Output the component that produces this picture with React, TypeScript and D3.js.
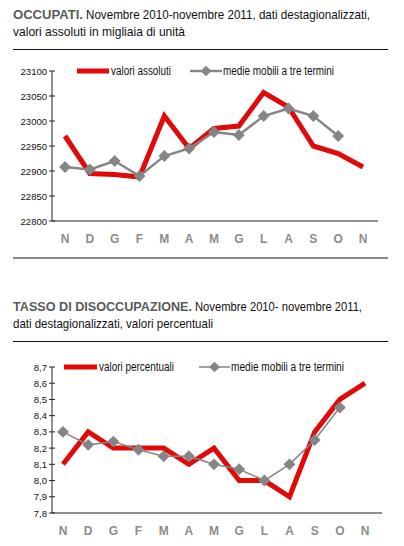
import React, { useEffect } from 'react';
import * as d3 from 'd3';

const months = ['N', 'D', 'G', 'F', 'M', 'A', 'M', 'G', 'L', 'A', 'S', 'O', 'N'];

// occupati, migliaia
const occValues = [22970, 22895, 22893, 22888, 23010, 22945, 22985, 22990, 23057, 23028, 22950, 22935, 22908];
const occMedie = [22908, 22903, 22920, 22890, 22930, 22945, 22978, 22972, 23010, 23025, 23010, 22970];
const occTicks = [22800, 22850, 22900, 22950, 23000, 23050, 23100];

// tasso di disoccupazione, %
const disValues = [8.1, 8.3, 8.2, 8.2, 8.2, 8.1, 8.2, 8.0, 8.0, 7.9, 8.3, 8.5, 8.6];
const disMedie = [8.3, 8.22, 8.24, 8.19, 8.15, 8.15, 8.1, 8.07, 8.0, 8.1, 8.25, 8.45];
const disTicks = [7.8, 7.9, 8.0, 8.1, 8.2, 8.3, 8.4, 8.5, 8.6, 8.7];

const FONT = '"Liberation Sans", Arial, sans-serif';
const RED = '#e10a0a';
const GREY = '#858585';

interface PanelProps {
  top: number;
  boldTitle: string;
  title1: string;
  title2: string;
  titleX: [number, number, number, number]; // bold end, regular start, regular end, line2 end
  values: number[];
  medie: number[];
  ticks: number[];
  fmt: (v: number) => string;
  plotTop: number;
  plotBottom: number;
  xFirst: number;
  xLast: number;
  axisEnd: number;
  redLabel: string;
  redLegend: [number, number, number];
  greyLegend: [number, number, number];
  greyWidth: number;
  bottomRule: boolean;
}

const Panel: React.FC<PanelProps> = (p) => {
  const t = p.top;
  const y = d3.scaleLinear()
    .domain([p.ticks[0], p.ticks[p.ticks.length - 1]])
    .range([t + p.plotBottom, t + p.plotTop]);
  const x = d3.scalePoint<number>()
    .domain(months.map((_, i) => i))
    .range([p.xFirst, p.xLast]);

  const line = d3.line<number>()
    .x((_, i) => x(i) || 0)
    .y(d => y(d));

  const axisX = 52;
  const diamond = (cx: number, cy: number, key: any, s = 4.2) => (
    <rect key={key} x={cx - s} y={cy - s} width={s * 2} height={s * 2}
      fill={GREY} transform={`rotate(45 ${cx} ${cy})`} />
  );
  const legY = t + p.plotTop;
  const [boldEnd, regStart, regEnd, l2End] = p.titleX;

  return (
    <g>
      <text x={13} y={t + 19} fontFamily={FONT} fontSize={13} fontWeight="bold" fill="#5a5a5a"
        textLength={boldEnd - 13} lengthAdjust="spacingAndGlyphs">{p.boldTitle}</text>
      <text x={regStart} y={t + 19} fontFamily={FONT} fontSize={13} fill="#111"
        textLength={regEnd - regStart} lengthAdjust="spacingAndGlyphs">{p.title1}</text>
      <text x={13} y={t + 36} fontFamily={FONT} fontSize={13} fill="#111"
        textLength={l2End - 13} lengthAdjust="spacingAndGlyphs">{p.title2}</text>
      <line x1={13} x2={388} y1={t + 49.5} y2={t + 49.5} stroke="#111" strokeWidth={1.2} />

      {/* axes */}
      <line x1={axisX} x2={axisX} y1={y(p.ticks[p.ticks.length - 1])} y2={y(p.ticks[0])} stroke="#222" strokeWidth={1} />
      <line x1={axisX} x2={p.axisEnd} y1={y(p.ticks[0])} y2={y(p.ticks[0])} stroke="#222" strokeWidth={1} />
      {p.ticks.map((v, i) => (
        <g key={i}>
          <line x1={axisX - 3} x2={axisX + 3} y1={y(v)} y2={y(v)} stroke="#222" strokeWidth={1} />
          <text x={axisX - 5} y={y(v) + 3.5} textAnchor="end" fontFamily={FONT} fontSize={9.5} fill="#111">{p.fmt(v)}</text>
        </g>
      ))}
      {months.map((m, i) => (
        <text key={i} x={x(i)} y={y(p.ticks[0]) + 22} textAnchor="middle" fontFamily={FONT}
          fontWeight="bold" fontSize={12} fill="#8c8c8c">{m}</text>
      ))}

      {/* series */}
      <path d={line(p.values) || ''} fill="none" stroke={RED} strokeWidth={5} strokeLinejoin="miter" />
      <path d={line(p.medie) || ''} fill="none" stroke={GREY} strokeWidth={p.greyWidth} />
      {p.medie.map((v, i) => diamond(x(i) || 0, y(v), i))}

      {/* legend */}
      <line x1={p.redLegend[0]} x2={p.redLegend[1]} y1={legY} y2={legY} stroke={RED} strokeWidth={5} />
      <text x={p.redLegend[1] + 2} y={legY + 4} fontFamily={FONT} fontSize={12} fill="#111"
        textLength={p.redLegend[2] - p.redLegend[1] - 2} lengthAdjust="spacingAndGlyphs">{p.redLabel}</text>
      <line x1={p.greyLegend[0]} x2={p.greyLegend[1]} y1={legY} y2={legY} stroke={GREY} strokeWidth={p.greyWidth} />
      {diamond((p.greyLegend[0] + p.greyLegend[1]) / 2, legY, 'leg', 3.8)}
      <text x={p.greyLegend[1] + 1} y={legY + 4} fontFamily={FONT} fontSize={12} fill="#111"
        textLength={p.greyLegend[2] - p.greyLegend[1] - 1} lengthAdjust="spacingAndGlyphs">medie mobili a tre termini</text>

      {p.bottomRule && <line x1={13} x2={388} y1={t + 258} y2={t + 258} stroke="#111" strokeWidth={1.2} />}
    </g>
  );
};

const fmtInt = (v: number) => d3.format('d')(v);
const fmtIt = (v: number) => d3.format('.1f')(v).replace('.', ',');

export default function App() {
  useEffect(() => {
    document.body.style.margin = '0';
  }, []);
  return (
    <svg width={404} height={546} style={{ display: 'block', background: '#fff' }}>
      <Panel top={0} boldTitle="OCCUPATI." title1="Novembre 2010-novembre 2011, dati destagionalizzati,"
        title2="valori assoluti in migliaia di unità" titleX={[83, 86, 370, 185]}
        values={occValues} medie={occMedie} ticks={occTicks}
        fmt={fmtInt} plotTop={71} plotBottom={221} xFirst={65} xLast={363} axisEnd={378}
        redLabel="valori assoluti" redLegend={[77, 109, 171]} greyLegend={[190, 222, 334]} greyWidth={2.4}
        bottomRule={true} />
      <Panel top={292} boldTitle="TASSO DI DISOCCUPAZIONE." title1="Novembre 2010- novembre 2011,"
        title2="dati destagionalizzati, valori percentuali" titleX={[192, 195, 362, 213]}
        values={disValues} medie={disMedie} ticks={disTicks}
        fmt={fmtIt} plotTop={75} plotBottom={221} xFirst={63} xLast={365} axisEnd={382}
        redLabel="valori percentuali" redLegend={[64, 97, 174]} greyLegend={[199, 230, 344]} greyWidth={1.5}
        bottomRule={false} />
    </svg>
  );
}
